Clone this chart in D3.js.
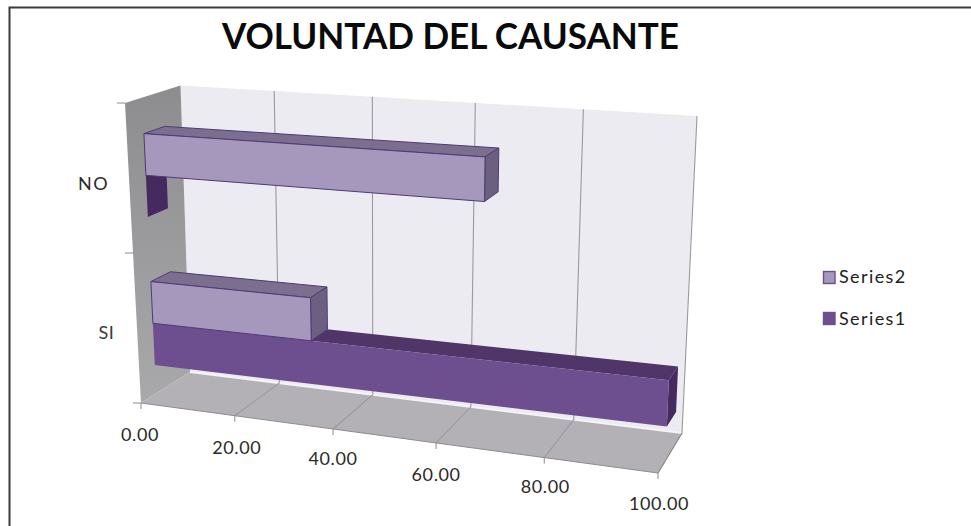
<!DOCTYPE html>
<html><head><meta charset="utf-8">
<style>html,body{margin:0;padding:0;background:#fff}svg{display:block}text{font-family:Lato,"Open Sans",sans-serif}</style>
<script src="https://cdn.jsdelivr.net/npm/d3@7/dist/d3.min.js"></script>
</head><body><svg id="c" width="971" height="526"></svg>
<script>
const title = "VOLUNTAD DEL CAUSANTE";
const categories = ["SI", "NO"];
const seriesNames = ["Series1", "Series2"];
const series1 = [100, 0];
const series2 = [33.33, 66.67];
const valueTicks = [0, 20, 40, 60, 80, 100];
const tickLabels = ["0.00", "20.00", "40.00", "60.00", "80.00", "100.00"];

const W = 971, H = 526;
const svg = d3.select("#c");

// 3D box: corners of the plot cube as seen in the picture
const C = {
  fbl:[141,403], fbr:[658,473], bbl:[190,372], bbr:[682,433],
  ftl:[125,103], ftr:[671,140], btl:[180.5,85.5], btr:[697,116]
};
const persp = 1.128;
const val = d3.scaleLinear().domain([0,100]).range([0,1]);
const depth = d3.scaleLinear().domain([0,1]).range([0,1]);
const cat = d3.scaleLinear().domain([0,categories.length]).range([0,1]);
const warp = v => v <= 0 ? 0 : v / (v + persp * (1 - v));
const mix = (a,b,t) => [a[0]+(b[0]-a[0])*t, a[1]+(b[1]-a[1])*t];
function P(value, d, h, lift){
  const t = warp(val(value));
  const bf = mix(C.fbl,C.fbr,t), bb = mix(C.bbl,C.bbr,t),
        tf = mix(C.ftl,C.ftr,t), tb = mix(C.btl,C.btr,t);
  return mix(mix(bf,bb,d), mix(tf,tb,d), h + (lift||0)*t);
}
const line = d3.line();
const poly = (pts, fill, stroke, sw) => svg.append("path").attr("d", line(pts)+"Z")
  .attr("fill", fill).attr("stroke", stroke||"none").attr("stroke-width", sw||0).attr("stroke-linejoin","round");

// frame (only top and left are in the crop)
svg.append("path").attr("d", `M${W},7.5H9.5V${H}`).attr("fill","none").attr("stroke","#3a3a3a").attr("stroke-width",2);

// gradients
const defs = svg.append("defs");
const wg = defs.append("linearGradient").attr("id","wall").attr("x1",0).attr("x2",0).attr("y1",0).attr("y2",1);
wg.append("stop").attr("offset",0).attr("stop-color","#8d8c8f");
wg.append("stop").attr("offset",1).attr("stop-color","#a9a8ab");

// back wall, side wall, floor
poly([P(0,1,0),P(100,1,0),P(100,1,1),P(0,1,1)], "#ecebf1");
poly([P(0,0,0),P(0,1,0),P(0,1,1),P(0,0,1)], "url(#wall)");
poly([P(0,0,0),P(100,0,0),P(100,1,0),P(0,1,0)], "#b3b1b5");
svg.append("path").attr("d", line([P(0,1,0),P(100,1,0)])).attr("stroke","#f4f3f6").attr("stroke-width",2).attr("fill","none");

// gridlines
valueTicks.slice(1).forEach(v => {
  svg.append("path").attr("d", line([P(v,0,0),P(v,1,0),P(v,1,1)])).attr("fill","none").attr("stroke","#9a9a9c").attr("stroke-width",1.1);
});
svg.append("path").attr("d", line([P(0,0,0),P(100,0,0),P(100,1,0)])).attr("fill","none").attr("stroke","#8c8c8e").attr("stroke-width",1);

// ticks
valueTicks.forEach(v => {
  const p = P(v,0,0);
  svg.append("path").attr("d", line([p,[p[0],p[1]+6]])).attr("stroke","#8c8c8e").attr("stroke-width",1);
});
[0,1,2].forEach(i => {
  const p = P(0,0,cat(i));
  svg.append("path").attr("d", line([p,[p[0]-8,p[1]]])).attr("stroke","#8c8c8e").attr("stroke-width",1);
});

// value labels
const labelOffset = [[-1,38],[2,38],[0,36],[0,38],[1,35],[1,37]];
valueTicks.forEach((v,i) => {
  const p = P(v,0,0);
  svg.append("text").attr("x",p[0]+labelOffset[i][0]).attr("y",p[1]+labelOffset[i][1])
    .attr("text-anchor","middle").attr("font-size",18).attr("letter-spacing",0.6).attr("fill","#2a2a2a").text(tickLabels[i]);
});

// category labels
svg.append("text").attr("x",106.5).attr("y",339).attr("text-anchor","middle").attr("font-size",18).attr("fill","#3a3a3a").attr("letter-spacing",0.5).text(categories[0]);
svg.append("text").attr("x",93.5).attr("y",190).attr("text-anchor","middle").attr("font-size",18).attr("fill","#2a2a2a").attr("letter-spacing",1.5).text(categories[1]);

// bars
const d0 = depth(0.31), d1 = depth(0.69);
const base = 0.096, thick = 0.141, lift = 0.008;
const palette = {
  Series1:{front:"#6d4e8e", top:"#4f3568", side:"#452a60", edge:"none"},
  Series2:{front:"#a697bd", top:"#7c6e8e", side:"#6b607f", edge:"#4f3a75"}
};
function bar(v, h0, h1, c){
  const sw = c.edge === "none" ? 0 : 1;
  if (v > 0) poly([P(0,d0,h1,lift),P(0,d1,h1,lift),P(v,d1,h1,lift),P(v,d0,h1,lift)], c.top, c.edge, sw);
  poly([P(v,d0,h0,lift),P(v,d1,h0,lift),P(v,d1,h1,lift),P(v,d0,h1,lift)], c.side, c.edge, sw);
  if (v > 0) poly([P(0,d0,h0,lift),P(v,d0,h0,lift),P(v,d0,h1,lift),P(0,d0,h1,lift)], c.front, c.edge, sw);
}
categories.forEach((name,i) => {
  const b = cat(i) + base;
  bar(series1[i], b, b+thick, palette.Series1);
  bar(series2[i], b+thick, b+2*thick, palette.Series2);
});

// title
svg.append("text").attr("x",222).attr("y",49).attr("font-size",36).attr("font-weight",700).attr("fill","#0a0a0a")
  .attr("textLength",457).attr("lengthAdjust","spacingAndGlyphs").text(title);

// legend
[[seriesNames[1],271.5,283,palette.Series2.front],[seriesNames[0],312.5,325,palette.Series1.front]].forEach(([n,y,b,f]) => {
  svg.append("rect").attr("x",823.5).attr("y",y).attr("width",11.5).attr("height",12).attr("fill",f).attr("stroke","#6d4e8e").attr("stroke-width",1.4);
  svg.append("text").attr("x",839).attr("y",b).attr("font-size",18).attr("fill","#222").attr("letter-spacing",1.4).text(n);
});
</script></body></html>
